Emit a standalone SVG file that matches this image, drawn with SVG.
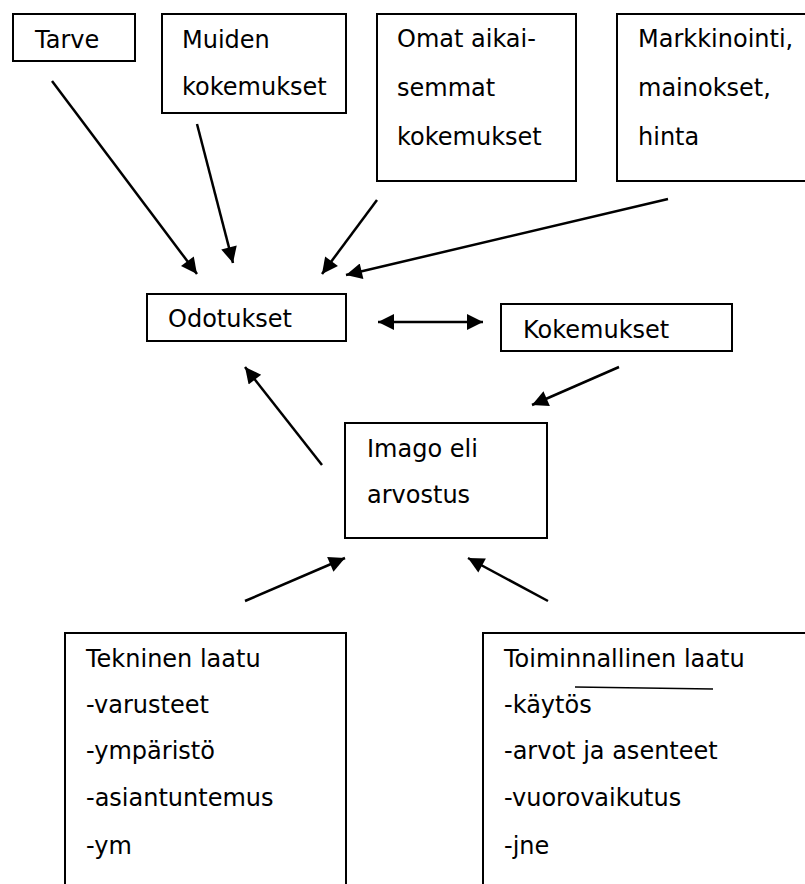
<svg xmlns="http://www.w3.org/2000/svg" width="805" height="884" viewBox="0 0 805 884">
  <style>
    .box { fill: #fff; stroke: #000; stroke-width: 2; }
    .lbl { font-family: "DejaVu Sans", "Liberation Sans", sans-serif; font-size: 24px; fill: #000; }
    .arr { stroke: #000; stroke-width: 2.5; fill: none; marker-end: url(#head); }
  </style>
  <defs>
    <marker id="head" viewBox="0 0 10 10" refX="10" refY="5" markerUnits="userSpaceOnUse" markerWidth="20" markerHeight="16" orient="auto">
      <path d="M0,0 L10,5 L0,10 Z" fill="#000"/>
    </marker>
    <marker id="tail" viewBox="0 0 10 10" refX="0" refY="5" markerUnits="userSpaceOnUse" markerWidth="20" markerHeight="16" orient="auto">
      <path d="M10,0 L0,5 L10,10 Z" fill="#000"/>
    </marker>
  </defs>
  <rect width="805" height="884" fill="#fff"/>

  <g id="tarve">
    <rect class="box" x="13" y="14" width="122" height="47"/>
    <text class="lbl" x="35" y="48">Tarve</text>
  </g>
  <g id="muiden-kokemukset">
    <rect class="box" x="162" y="14" width="184" height="99"/>
    <text class="lbl" x="182" y="48">Muiden</text>
    <text class="lbl" x="182" y="95">kokemukset</text>
  </g>
  <g id="omat-kokemukset">
    <rect class="box" x="377" y="14" width="199" height="167"/>
    <text class="lbl" x="397" y="47">Omat aikai-</text>
    <text class="lbl" x="397" y="96">semmat</text>
    <text class="lbl" x="397" y="145">kokemukset</text>
  </g>
  <g id="markkinointi">
    <rect class="box" x="617" y="14" width="200" height="167"/>
    <text class="lbl" x="638" y="47">Markkinointi,</text>
    <text class="lbl" x="638" y="96">mainokset,</text>
    <text class="lbl" x="638" y="145">hinta</text>
  </g>
  <g id="odotukset">
    <rect class="box" x="147" y="294" width="199" height="47"/>
    <text class="lbl" x="168" y="327">Odotukset</text>
  </g>
  <g id="kokemukset">
    <rect class="box" x="501" y="304" width="231" height="47"/>
    <text class="lbl" x="523" y="338">Kokemukset</text>
  </g>
  <g id="imago">
    <rect class="box" x="345" y="423" width="202" height="115"/>
    <text class="lbl" x="367" y="457">Imago eli</text>
    <text class="lbl" x="367" y="503">arvostus</text>
  </g>
  <g id="tekninen-laatu">
    <rect class="box" x="65" y="633" width="281" height="270"/>
    <text class="lbl" x="86" y="667">Tekninen laatu</text>
    <text class="lbl" x="86" y="713">-varusteet</text>
    <text class="lbl" x="86" y="759">-ympäristö</text>
    <text class="lbl" x="86" y="806">-asiantuntemus</text>
    <text class="lbl" x="86" y="854">-ym</text>
  </g>
  <g id="toiminnallinen-laatu">
    <rect class="box" x="483" y="633" width="340" height="270"/>
    <text class="lbl" x="504" y="667">Toiminnallinen laatu</text>
    <line x1="575" y1="687" x2="713" y2="689" stroke="#000" stroke-width="1.5"/>
    <text class="lbl" x="504" y="713">-käytös</text>
    <text class="lbl" x="504" y="759">-arvot ja asenteet</text>
    <text class="lbl" x="504" y="806">-vuorovaikutus</text>
    <text class="lbl" x="504" y="854">-jne</text>
  </g>

  <g id="connectors">
    <line class="arr" x1="52" y1="81" x2="197" y2="274"/>
    <line class="arr" x1="197" y1="124" x2="233" y2="263"/>
    <line class="arr" x1="377" y1="200" x2="322" y2="274"/>
    <line class="arr" x1="668" y1="199" x2="346" y2="275"/>
    <line class="arr" x1="378" y1="322" x2="483" y2="322" marker-start="url(#tail)"/>
    <line class="arr" x1="619" y1="367" x2="532" y2="405"/>
    <line class="arr" x1="322" y1="465" x2="245" y2="367"/>
    <line class="arr" x1="245" y1="601" x2="345" y2="558"/>
    <line class="arr" x1="548" y1="601" x2="468" y2="558"/>
  </g>
</svg>
